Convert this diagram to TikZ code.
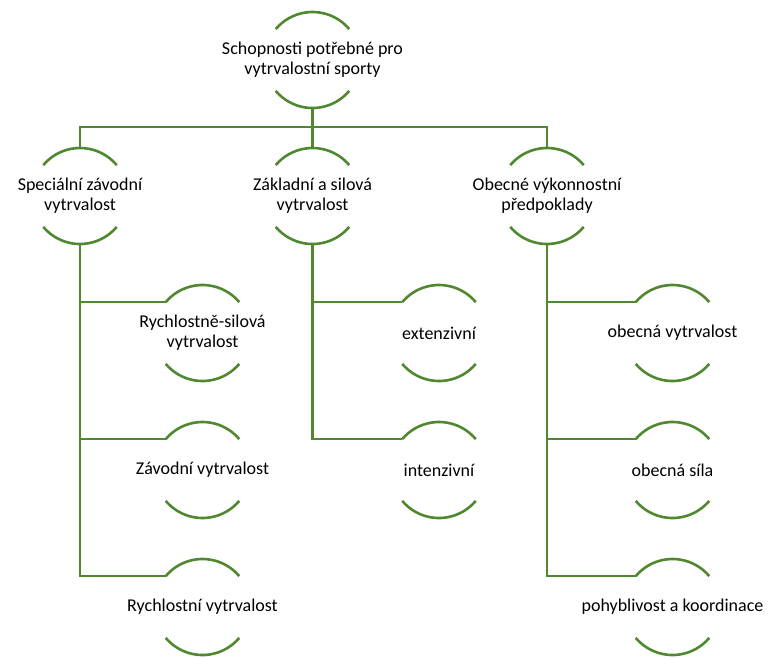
\documentclass[tikz,border=0pt]{standalone}
\usepackage{fontspec}
\setmainfont{Carlito}
\definecolor{arcgreen}{RGB}{80,136,48}
\usetikzlibrary{positioning}

\begin{document}
\begin{tikzpicture}[
    x=1pt, y=-1pt,
    hub/.style={circle, minimum size=96pt, inner sep=0pt, outer sep=0pt},
    txt/.style={font=\fontsize{18}{20}\selectfont, align=center, text=black},
    arcline/.style={line width=2.6pt, arcgreen},
    conn/.style={line width=2.6pt, arcgreen}
  ]
  \useasboundingbox (0,0) rectangle (769,657);
  % top level
  \node[hub, label={[txt]center:{Schopnosti potřebné pro\\vytrvalostní sporty}}] (top) at (312.5,60) {};
  % second level
  \node[hub, below=40pt of top, label={[txt]center:{Základní a silová\\vytrvalost}}] (zakl) {};
  \node[hub, left=136.5pt of zakl, label={[txt]center:{Speciální závodní\\vytrvalost}}] (spec) {};
  \node[hub, right=138.5pt of zakl, label={[txt]center:{Obecné výkonnostní\\předpoklady}}] (obec) {};
  \coordinate (bus) at (312.5,127);
  % third level
  \node[hub, below=41pt of spec, xshift=122.5pt, label={[txt]center:{Rychlostně-silová\\vytrvalost}}] (rsv) {};
  \node[hub, below=41pt of rsv, label={[txt]center:Závodní vytrvalost}] (zv) {};
  \node[hub, below=41pt of zv, label={[txt]center:Rychlostní vytrvalost}] (rv) {};
  \node[hub, below=41pt of zakl, xshift=126.5pt, label={[txt]center:extenzivní}] (ext) {};
  \node[hub, below=41pt of ext, label={[txt]center:intenzivní}] (int) {};
  \node[hub, below=41pt of obec, xshift=125.5pt, label={[txt]center:obecná vytrvalost}] (ov) {};
  \node[hub, below=41pt of ov, label={[txt]center:obecná síla}] (os) {};
  \node[hub, below=41pt of os, label={[txt]center:pohyblivost a koordinace}] (pk) {};
  % arcs
  \foreach \n in {top,zakl,spec,obec,rsv,zv,rv,ext,int,ov,os,pk} {
    \draw[arcline] (\n.40) arc[start angle=40, end angle=140, radius=48pt];
    \draw[arcline] (\n.220) arc[start angle=220, end angle=320, radius=48pt];
  }
  % connectors
  \draw[conn] (top.south) -- (zakl.north);
  \draw[conn] (spec.north) |- (bus) -| (obec.north);
  \foreach \p/\c in {spec/rsv,spec/zv,spec/rv,zakl/ext,zakl/int,obec/ov,obec/os,obec/pk}
    \draw[conn] (\p.south) |- (\c.140);
\end{tikzpicture}
\end{document}
